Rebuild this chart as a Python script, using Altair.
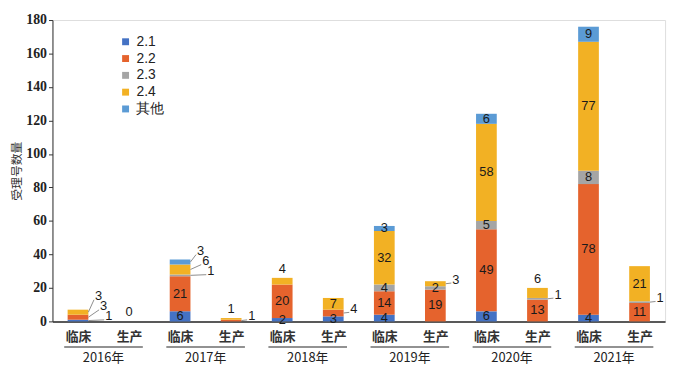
import json
import altair as alt
import pandas as pd

years = ["2016年", "2017年", "2018年", "2019年", "2020年", "2021年"]
kinds = ["临床", "生产"]
series = ["2.1", "2.2", "2.3", "2.4", "其他"]
colors = ["#4472C4", "#E5632D", "#A5A5A5", "#F2B124", "#5B9BD5"]
y_ticks = [0, 20, 40, 60, 80, 100, 120, 140, 160, 180]

v_21 = [1, 0, 6, 0, 2, 3, 4, 0, 6, 0, 4, 0]
v_22 = [3, 0, 21, 1, 20, 4, 14, 19, 49, 13, 78, 11]
v_23 = [0, 0, 1, 0, 0, 0, 4, 2, 5, 1, 8, 1]
v_24 = [3, 0, 6, 1, 4, 7, 32, 3, 58, 6, 77, 21]
v_oth = [0, 0, 3, 0, 0, 0, 3, 0, 6, 0, 9, 0]

# label placement per segment: i = inside, t = above the bar, s = side callout
p_21 = ["s", "", "i", "", "i", "i", "i", "", "i", "", "i", ""]
p_22 = ["s", "", "i", "s", "i", "s", "i", "i", "i", "i", "i", "i"]
p_23 = ["", "", "s", "", "", "", "i", "i", "i", "s", "i", "s"]
p_24 = ["s", "", "s", "t", "t", "i", "i", "s", "i", "t", "i", "i"]
p_oth = ["", "", "s", "", "", "", "i", "", "i", "", "i", ""]

values = [v_21, v_22, v_23, v_24, v_oth]
places = [p_21, p_22, p_23, p_24, p_oth]
n = len(years) * len(kinds)
half = 0.203

seg_rows, in_rows, top_rows, side_rows = [], [], [], []
for i in range(n):
    base = 0
    sides = []
    for k, s in enumerate(series):
        v = values[k][i]
        p = places[k][i]
        if v > 0:
            seg_rows.append(dict(xl=i - half, xr=i + half, y0=base, y1=base + v, series=s))
            mid = base + v / 2
            if p == "i":
                in_rows.append(dict(x=i, y=mid, t=str(v)))
            elif p == "t":
                top_rows.append(dict(x=i, y=base + v, t=str(v)))
            elif p == "s":
                sides.append(dict(mid=mid, t=str(v)))
        base += v
    if base == 0:
        top_rows.append(dict(x=i, y=0, t="0"))
    prev = -1e9
    for sd in sides:
        yl = max(sd["mid"] + 2.4, prev + 6)
        prev = yl
        sd["ylab"] = yl
    m = len(sides)
    for j, sd in enumerate(sides):
        kt = m - 1 - j
        xl = i + half + 0.2 + 0.1 * kt
        side_rows.append(dict(x0=i + half, y0=sd["mid"], x1=xl - 0.09, y1=sd["ylab"] - 2,
                              xl=xl, yl=sd["ylab"], t=sd["t"]))

seg_df = pd.DataFrame(seg_rows)
in_df = pd.DataFrame(in_rows)
top_df = pd.DataFrame(top_rows)
side_df = pd.DataFrame(side_rows)
year_df = pd.DataFrame(dict(year=years,
                            xc=[2 * k + 0.5 for k in range(len(years))],
                            xa=[2 * k - 0.27 for k in range(len(years))],
                            xb=[2 * k + 1.27 for k in range(len(years))]))

W, H = 620, 305
YT = "受理号数量"
xscale = alt.Scale(domain=[-0.5, n - 0.5], nice=False, zero=False)
yscale = alt.Scale(domain=[0, 180], nice=False, zero=True)
kind_labels = [kinds[i % 2] for i in range(n)]
label_expr = json.dumps(kind_labels, ensure_ascii=False) + "[datum.value]"

x_axis = alt.Axis(values=list(range(n)), labelExpr=label_expr, title=None,
                  ticks=False, tickSize=0, grid=False, domainColor="#595959",
                  domainWidth=2, labelFont="Noto Sans CJK SC", labelFontSize=13,
                  labelFontWeight="bold", labelColor="#333333", labelPadding=9,
                  labelFlush=False, labelOverlap=False, labelBound=False)
y_axis = alt.Axis(values=y_ticks, title=YT, grid=False, tickCount=10,
                  tickSize=4, tickColor="#333333", domainColor="#333333",
                  labelPadding=2, labelFont="Liberation Serif",
                  labelFontWeight="bold", labelFontSize=14, labelColor="#222222",
                  labelFlush=False, labelOverlap=False,
                  titleFont="Noto Sans CJK SC", titleFontSize=12,
                  titleFontWeight="normal", titleColor="#333333",
                  titleX=-36, titleY=H / 2, titleAngle=270, titleAlign="center",
                  titleBaseline="middle")


def X(f):
    return alt.X(f, scale=xscale, title=None, axis=x_axis)


def Y(f):
    return alt.Y(f, scale=yscale, title=YT, axis=y_axis)


bars = alt.Chart(seg_df).mark_bar().encode(
    x=X("xl:Q"),
    x2="xr:Q",
    y=Y("y0:Q"),
    y2="y1:Q",
    color=alt.Color("series:N", scale=alt.Scale(domain=series, range=colors),
                    legend=alt.Legend(title=None, orient="none", legendX=67, legendY=15,
                                      symbolType="square", symbolSize=49,
                                      symbolStrokeWidth=0, labelFont="Liberation Sans",
                                      labelFontSize=14, labelColor="#222222",
                                      rowPadding=3, padding=0)),
    order=alt.Order("y0:Q"),
)

txt_style = dict(font="Liberation Sans", fontSize=13, color="#1a1a1a", baseline="middle")

inside = alt.Chart(in_df).mark_text(**txt_style).encode(
    x=X("x:Q"), y=Y("y:Q"), text="t:N")

top = alt.Chart(top_df).mark_text(dy=-9, **txt_style).encode(
    x=X("x:Q"), y=Y("y:Q"), text="t:N")

leaders = alt.Chart(side_df).mark_rule(color="#8c8c8c", strokeWidth=1).encode(
    x=X("x0:Q"), x2="x1:Q", y=Y("y0:Q"), y2="y1:Q")

side = alt.Chart(side_df).mark_text(**txt_style).encode(
    x=X("xl:Q"), y=Y("yl:Q"), text="t:N")

underline = alt.Chart(year_df).mark_rule(color="#6e6e6e", strokeWidth=1.5).encode(
    x=X("xa:Q"), x2="xb:Q", y=alt.value(H + 26))

year_txt = alt.Chart(year_df).mark_text(font="Noto Sans CJK SC", fontSize=13,
                                        color="#222222", baseline="middle").encode(
    x=X("xc:Q"), y=alt.value(H + 37), text="year:N")

chart = alt.layer(bars, inside, top, leaders, side, underline, year_txt).properties(
    width=W, height=H,
    padding={"left": 45, "top": 10, "right": 7, "bottom": 45},
    autosize=alt.AutoSizeParams(type="none"),
).configure_view(stroke=None).configure(background="white")

chart.save("out.html", embed_options={"renderer": "svg", "actions": False})
